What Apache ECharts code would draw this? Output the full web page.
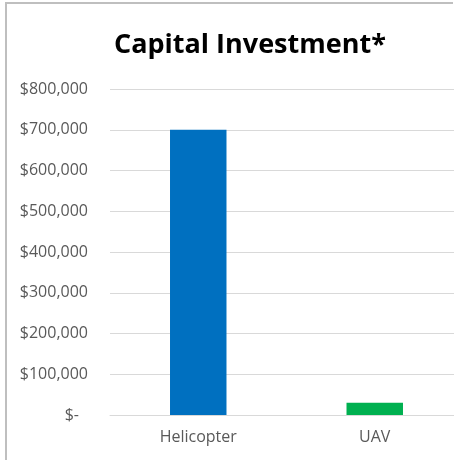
<!DOCTYPE html>
<html>
<head>
<meta charset="utf-8">
<script src="https://cdn.jsdelivr.net/npm/echarts@6/dist/echarts.min.js"></script>
<style>
html,body{margin:0;padding:0;background:#fff;overflow:hidden;}
#c{width:454px;height:460px;}
</style>
</head>
<body>
<div id="c"></div>
<script>
var categories = ['Helicopter', 'UAV'];
var values = [700000, 30000];
var barColors = ['#0070C0', '#00B050'];
var yMin = 0, yMax = 800000, yStep = 100000;

function fmt(v) {
  if (v === 0) return '{z|$-}';
  return '$' + v.toString().replace(/\B(?=(\d{3})+(?!\d))/g, ',');
}

var chart = echarts.init(document.getElementById('c'));
chart.setOption({
  animation: false,
  backgroundColor: '#fff',
  graphic: [{
    type: 'polyline',
    shape: { points: [[6, 470], [6, 3], [453, 3]] },
    style: { fill: 'none', stroke: '#bfbfbf', lineWidth: 2 },
    silent: true, z: 100
  }],
  title: {
    text: 'Capital Investment*',
    left: 109,
    top: 23,
    textStyle: { fontFamily: 'Open Sans', fontWeight: 'bold', fontSize: 27, color: '#000', lineHeight: 34 }
  },
  grid: { left: 110, width: 353, top: 89, bottom: 45, containLabel: false, outerBoundsMode: 'none' },
  xAxis: {
    type: 'category',
    data: categories,
    axisLine: { show: true, lineStyle: { color: '#d9d9d9', width: 1 } },
    axisTick: { show: false },
    axisLabel: { color: '#595959', fontFamily: 'Open Sans', fontSize: 16, margin: 14 }
  },
  yAxis: {
    type: 'value',
    min: yMin, max: yMax, interval: yStep,
    axisLine: { show: false },
    axisTick: { show: false },
    splitLine: { lineStyle: { color: '#d9d9d9', width: 1 } },
    axisLabel: {
      color: '#595959', fontFamily: 'Open Sans', fontSize: 16, margin: 22,
      formatter: fmt,
      rich: { z: { color: '#595959', fontFamily: 'Open Sans', fontSize: 16, padding: [0, 9, 0, 0] } }
    }
  },
  series: [{
    type: 'bar',
    barWidth: '32%',
    data: values.map(function (v, i) { return { value: v, itemStyle: { color: barColors[i] } }; })
  }]
});
</script>
</body>
</html>
